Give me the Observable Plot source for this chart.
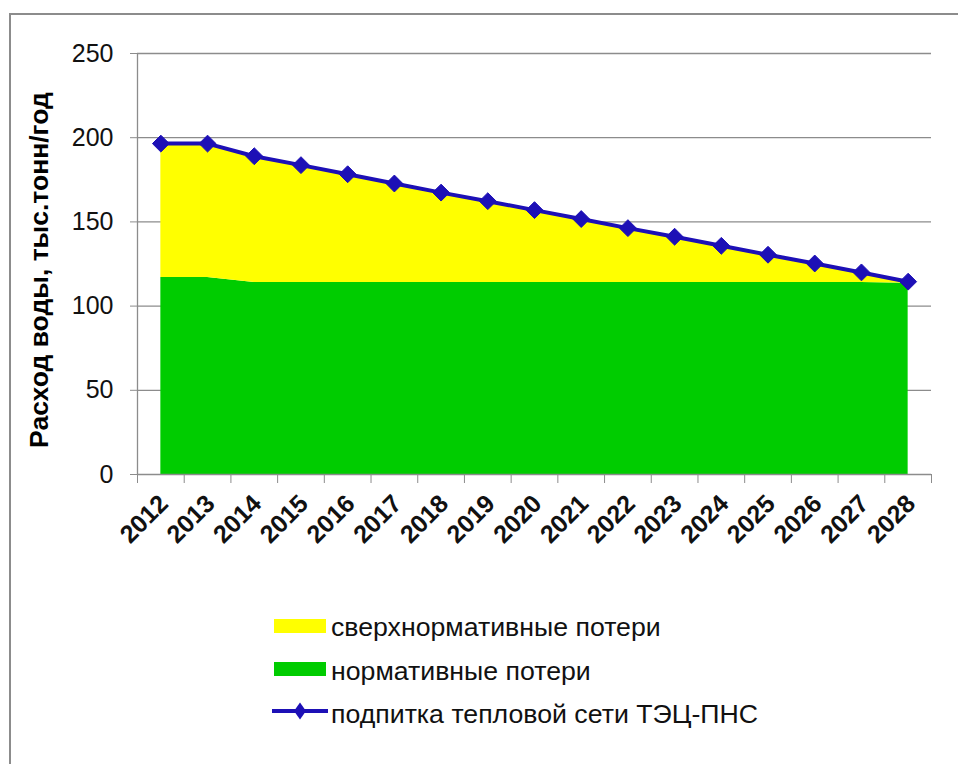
<!DOCTYPE html>
<html>
<head>
<meta charset="utf-8">
<script src="https://cdn.jsdelivr.net/npm/d3@7"></script>
<script src="https://cdn.jsdelivr.net/npm/@observablehq/plot@0.6"></script>
<style>
  html, body { margin: 0; padding: 0; background: #fff; }
  #wrap { position: relative; width: 958px; height: 764px; overflow: hidden; font-family: "Liberation Sans", Arial, sans-serif; }
  #frame { position: absolute; left: 9px; top: 13px; width: 1000px; height: 800px; border: 2px solid #8c8c8c; box-sizing: border-box; }
  #chart { position: absolute; left: 0; top: 0; }
  #ytitle { position: absolute; left: 39px; top: 270px; transform: translate(-50%, -50%) rotate(-90deg); white-space: nowrap; font-weight: bold; font-size: 26.5px; color: #000; }
  .sw { position: absolute; }
  .lab { position: absolute; white-space: nowrap; font-size: 26.7px; line-height: 30px; color: #111; }
</style>
</head>
<body>
<div id="wrap">
  <div id="frame"></div>
  <div id="chart"></div>
  <div id="ytitle">Расход воды, тыс.тонн/год</div>
</div>
<script>
const years = [2012, 2013, 2014, 2015, 2016, 2017, 2018, 2019, 2020, 2021, 2022, 2023, 2024, 2025, 2026, 2027, 2028];
const normative = [117, 117, 114, 114, 114, 114, 114, 114, 114, 114, 114, 114, 114, 114, 114, 114, 113.5];
const total = [196.5, 196.5, 189, 183.7, 178.3, 172.8, 167.4, 162.3, 157, 151.7, 146.3, 141.2, 135.8, 130.5, 125.3, 120, 114.5];
const yTicks = [0, 50, 100, 150, 200, 250];
const seriesNames = ["сверхнормативные потери", "нормативные потери", "подпитка тепловой сети ТЭЦ-ПНС"];
const seriesColors = ["#ffff00", "#00cc00", "#1d10b6"];

const rows = years.map((y, i) => ({year: y, normative: normative[i], total: total[i]}));
const boundaries = years.map(y => y - 0.5).concat([years[years.length - 1] + 0.5]);
const grey = "#8c8c8c";

const plot = Plot.plot({
  width: 958,
  height: 545,
  marginLeft: 137,
  marginRight: 27,
  marginTop: 53,
  marginBottom: 71,
  style: {fontFamily: "'Liberation Sans', Arial, sans-serif", background: "transparent", overflow: "visible"},
  x: {type: "linear", domain: [boundaries[0], boundaries[boundaries.length - 1]]},
  y: {domain: [0, 250]},
  marks: [
    Plot.ruleY(yTicks.slice(1), {stroke: grey, strokeWidth: 1.3}),
    Plot.areaY(rows, {x: "year", y1: 0, y2: "normative", fill: seriesColors[1], curve: "linear"}),
    Plot.areaY(rows, {x: "year", y1: "normative", y2: "total", fill: seriesColors[0], curve: "linear"}),
    Plot.ruleY([0], {stroke: grey, strokeWidth: 1.3}),
    Plot.ruleX([boundaries[0]], {stroke: grey, strokeWidth: 1.3}),
    Plot.axisY({ticks: yTicks, tickSize: 7, tickPadding: 17, fontSize: 25, stroke: grey, fill: "#111", label: null, tickFormat: d => String(d)}),
    Plot.axisX({ticks: boundaries, tickSize: 9, tickFormat: () => "", stroke: grey, label: null}),
    Plot.axisX({ticks: years, tickSize: 0, tickPadding: 25, dx: 3, tickRotate: -45, fontSize: 25, fontWeight: "bold", fill: "#111", label: null, tickFormat: d => String(d)}),
    Plot.line(rows, {x: "year", y: "total", stroke: seriesColors[2], strokeWidth: 4}),
    Plot.dot(rows, {x: "year", y: "total", symbol: "diamond2", r: 7.6, fill: seriesColors[2], stroke: seriesColors[2], strokeWidth: 1})
  ]
});
document.getElementById("chart").appendChild(plot);

const wrap = document.getElementById("wrap");
const rowTop = 612, rowStep = 43.5;
seriesNames.forEach((name, i) => {
  const top = rowTop + i * rowStep;
  if (i < 2) {
    const sw = document.createElement("div");
    sw.className = "sw";
    sw.style.left = "274px";
    sw.style.top = (top + 6.5) + "px";
    sw.style.width = "52px";
    sw.style.height = "14px";
    sw.style.background = seriesColors[i];
    wrap.appendChild(sw);
  } else {
    const ns = "http://www.w3.org/2000/svg";
    const svg = document.createElementNS(ns, "svg");
    svg.setAttribute("width", "60");
    svg.setAttribute("height", "24");
    svg.style.position = "absolute";
    svg.style.left = "271px";
    svg.style.top = top + "px";
    const ln = document.createElementNS(ns, "line");
    ln.setAttribute("x1", "1"); ln.setAttribute("x2", "57");
    ln.setAttribute("y1", "12"); ln.setAttribute("y2", "12");
    ln.setAttribute("stroke", seriesColors[2]); ln.setAttribute("stroke-width", "4");
    svg.appendChild(ln);
    const dm = document.createElementNS(ns, "path");
    dm.setAttribute("d", "M29,3.5 L35,12 L29,20.5 L23,12 Z");
    dm.setAttribute("fill", seriesColors[2]);
    svg.appendChild(dm);
    wrap.appendChild(svg);
  }
  const lab = document.createElement("div");
  lab.className = "lab";
  lab.style.left = "331px";
  lab.style.top = top + "px";
  lab.textContent = name;
  wrap.appendChild(lab);
});
</script>
</body>
</html>
